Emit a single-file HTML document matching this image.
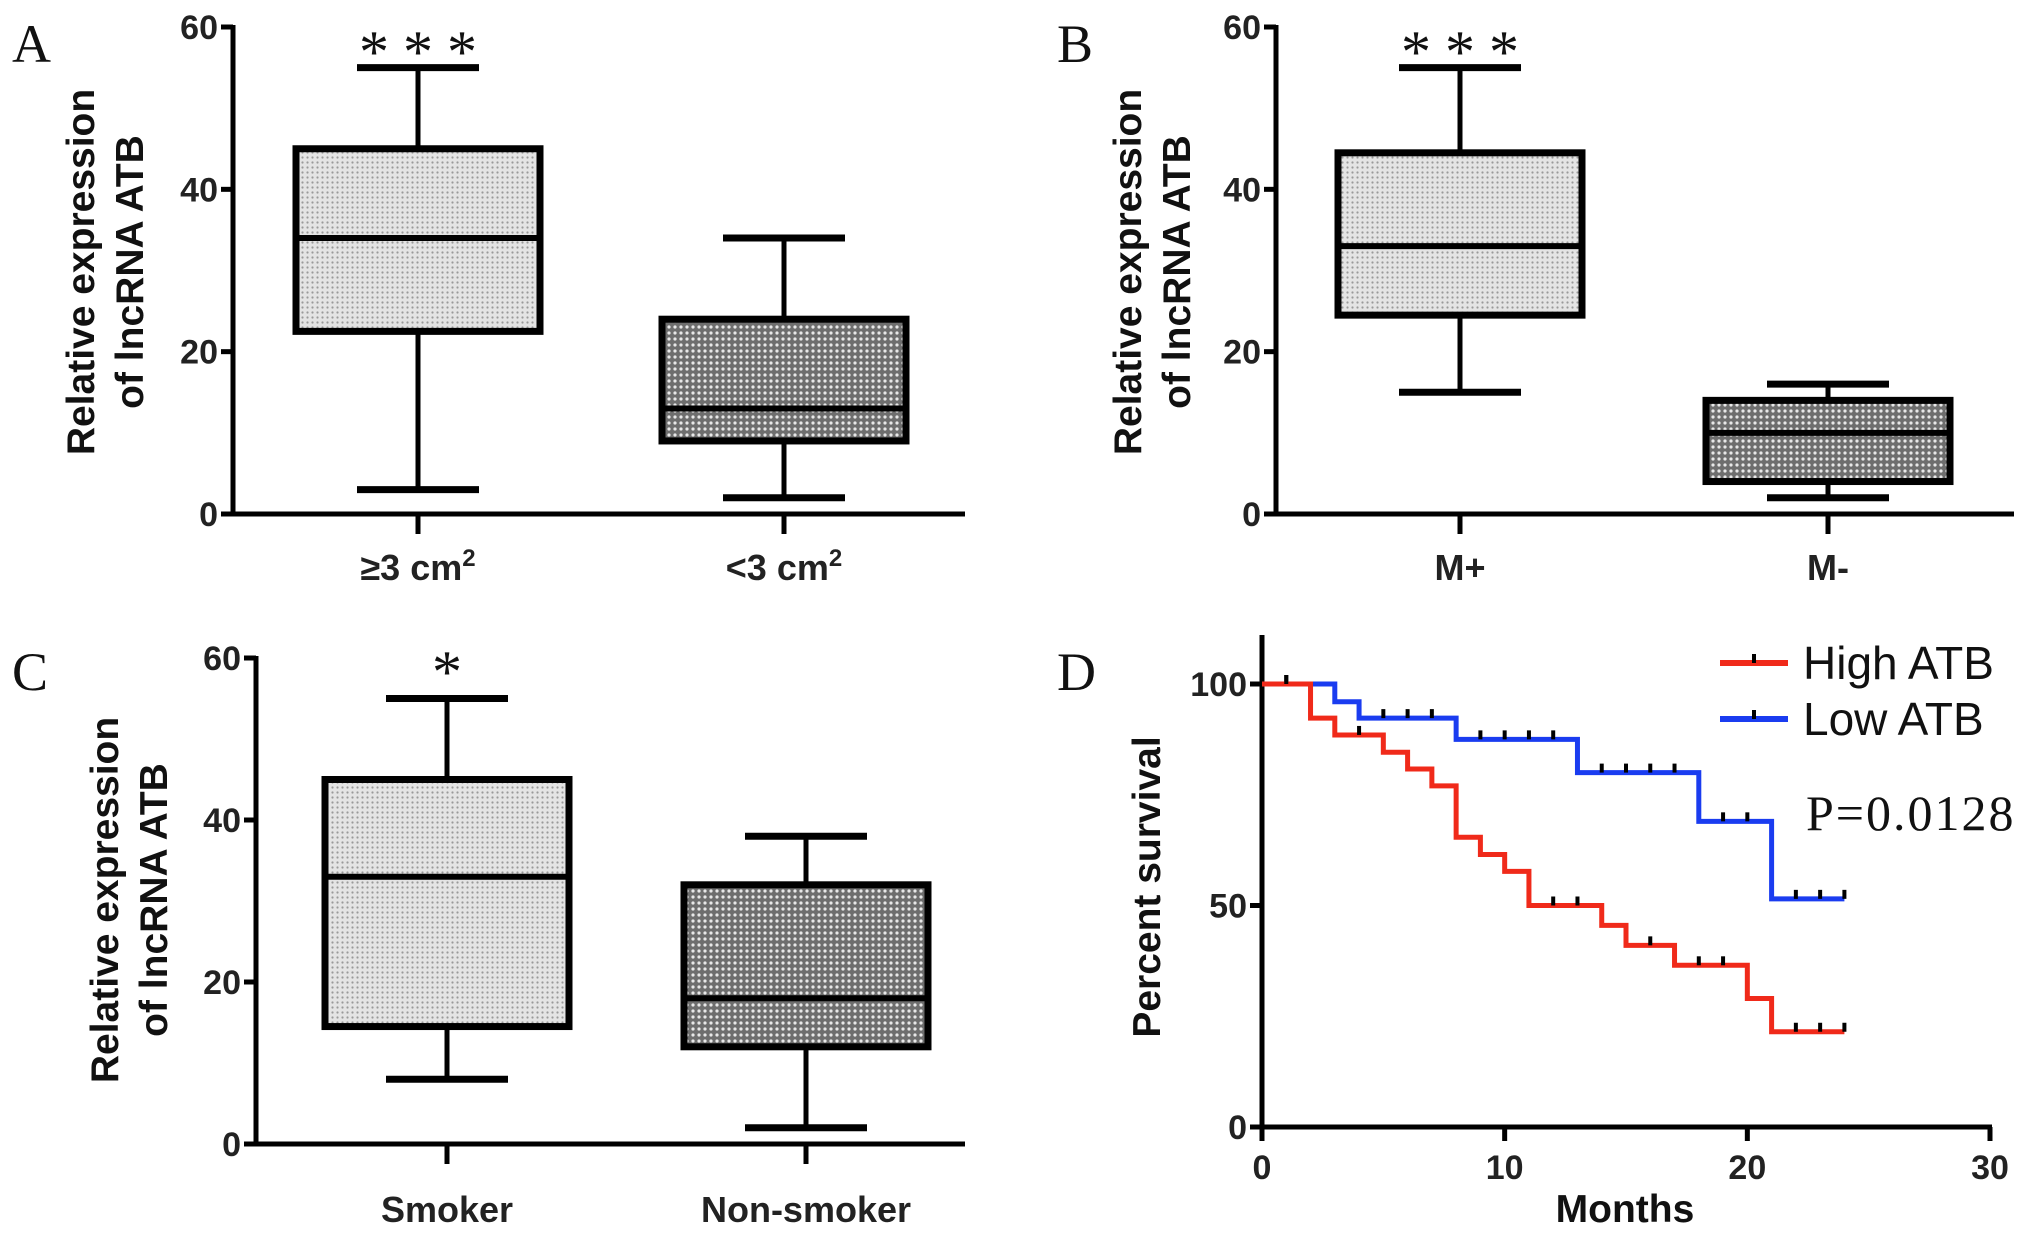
<!DOCTYPE html>
<html><head><meta charset="utf-8"><style>
html,body{margin:0;padding:0;background:#fff;}
svg{display:block;}
.tick{font-family:"Liberation Sans Narrow","Liberation Sans",sans-serif;font-size:34px;font-weight:bold;fill:#222;}
.xlab{font-family:"Liberation Sans",sans-serif;font-size:36px;font-weight:bold;fill:#222;}
.title{font-family:"Liberation Sans",sans-serif;font-size:39px;font-weight:bold;fill:#111;}
.letter{font-family:"Liberation Serif",serif;font-size:54px;fill:#111;}
.star{font-family:"Liberation Serif",serif;font-size:60px;fill:#111;}
.leg{font-family:"Liberation Sans Narrow","Liberation Sans",sans-serif;font-size:46px;fill:#111;}
</style></head><body>
<svg id="fig" width="2031" height="1234" viewBox="0 0 2031 1234" xmlns="http://www.w3.org/2000/svg">
<defs>
<pattern id="light" width="5" height="5" patternUnits="userSpaceOnUse"><rect width="5" height="5" fill="#e4e4e4"/><circle cx="2.5" cy="2.5" r="1.1" fill="#999"/></pattern>
<pattern id="dark" width="6" height="6" patternUnits="userSpaceOnUse"><rect width="6" height="6" fill="#6e6e6e"/><circle cx="3" cy="3" r="1.6" fill="#e8e8e8"/></pattern>
</defs>
<g id="root"></g>
</svg>
<script>
// Panel A data: [max, q3, median, q1, min]
const catsA = ["≥3 cm", "<3 cm"];
const boxA1 = [55, 45, 34, 22.5, 3];
const boxA2 = [34, 24, 13, 9, 2];
// Panel B
const catsB = ["M+", "M-"];
const boxB1 = [55, 44.5, 33, 24.5, 15];
const boxB2 = [16, 14, 10, 4, 2];
// Panel C
const catsC = ["Smoker", "Non-smoker"];
const boxC1 = [55, 45, 33, 14.5, 8];
const boxC2 = [38, 32, 18, 12, 2];
const yTicksBox = [0, 20, 40, 60];
// Panel D survival: times and values
const highT = [0, 2, 3, 5, 6, 7, 8, 9, 10, 11, 14, 15, 17, 20, 21, 24];
const highS = [100, 92.3, 88.5, 84.6, 80.8, 77, 65.4, 61.5, 57.7, 50, 45.5, 41, 36.5, 29, 21.5, 21.5];
const lowT = [0, 3, 4, 8, 13, 18, 21, 24];
const lowS = [100, 96, 92.3, 87.5, 80, 69, 51.5, 51.5];
const highCens = [1, 4, 12, 13, 16, 18, 19, 22, 23, 24];
const lowCens = [1, 5, 6, 7, 9, 10, 11, 12, 14, 15, 16, 17, 19, 20, 22, 23, 24];
const xTicksD = [0, 10, 20, 30];
const yTicksD = [0, 50, 100];

const NS = "http://www.w3.org/2000/svg";
const root = document.getElementById('root');
function mk(tag, attrs, parent, text) {
  const e = document.createElementNS(NS, tag);
  for (const k in attrs) e.setAttribute(k, attrs[k]);
  if (text !== undefined) e.textContent = text;
  (parent || root).appendChild(e);
  return e;
}

function boxPanel(p) {
  const g = mk('g', {});
  
  
  const y = v => p.y0 - (v / 60) * (p.y0 - p.y60);
  const ax = mk('line', {x1: p.ax, y1: p.y60 - 2, x2: p.ax, y2: p.y0 + 2, stroke: '#000', 'stroke-width': 5}, g);
  
  
  const xl = mk('line', {x1: p.ax, y1: p.y0, x2: p.xEnd, y2: p.y0, stroke: '#000', 'stroke-width': 5}, g);
  
  
  yTicksBox.forEach(v => {
    mk('line', {x1: p.ax - 12, y1: y(v), x2: p.ax, y2: y(v), stroke: '#000', 'stroke-width': 5}, g);
    const t = mk('text', {x: p.ax - 15, y: y(v) + 12, 'text-anchor': 'end', class: 'tick'}, g, v);
    
    
  });
  [p.b1, p.b2].forEach((b, i) => {
    const cx = p.cats[i];
    const bg = mk('g', {}, g);
    
    
    mk('line', {x1: cx, y1: y(b[0]), x2: cx, y2: y(b[4]), stroke: '#000', 'stroke-width': 5}, bg);
    mk('line', {x1: cx - 61, y1: y(b[0]), x2: cx + 61, y2: y(b[0]), stroke: '#000', 'stroke-width': 7}, bg);
    mk('line', {x1: cx - 61, y1: y(b[4]), x2: cx + 61, y2: y(b[4]), stroke: '#000', 'stroke-width': 7}, bg);
    mk('rect', {x: cx - 122, y: y(b[1]), width: 244, height: y(b[3]) - y(b[1]), fill: i ? 'url(#dark)' : 'url(#light)', stroke: '#000', 'stroke-width': 7}, bg);
    mk('line', {x1: cx - 122, y1: y(b[2]), x2: cx + 122, y2: y(b[2]), stroke: '#000', 'stroke-width': 6}, bg);
    mk('line', {x1: cx, y1: p.y0, x2: cx, y2: p.y0 + 20, stroke: '#000', 'stroke-width': 5}, g);
    const t = mk('text', {x: cx, y: p.labY, 'text-anchor': 'middle', class: 'xlab'}, g, p.labels[i]);
    
    
    if (p.sup && p.sup[i]) mk('tspan', {dy: -14, 'font-size': 24}, t, '2');
  });
  const st = mk('text', {x: p.cats[0] + 7, y: p.starY, 'text-anchor': 'middle', class: 'star', 'letter-spacing': 14}, g, p.star);
  
  
  const tt = mk('text', {transform: `translate(${p.tx},${p.ty}) rotate(-90)`, 'text-anchor': 'middle', class: 'title'}, g);
  
  
  mk('tspan', {x: 0, y: 0}, tt, 'Relative expression');
  mk('tspan', {x: 0, y: 49}, tt, 'of lncRNA ATB');
  const L = mk('text', {x: p.lx, y: p.ly, class: 'letter'}, g, p.letter);
  
  
}

boxPanel({name: 'panel-a', ax: 233, y0: 514, y60: 27, xEnd: 965, cats: [418, 784], b1: boxA1, b2: boxA2, labels: catsA, sup: [1, 1], labY: 580, star: '***', starY: 72, tx: 94, ty: 272, letter: 'A', lx: 12, ly: 62});
boxPanel({name: 'panel-b', ax: 1276, y0: 514, y60: 27, xEnd: 2014, cats: [1460, 1828], b1: boxB1, b2: boxB2, labels: catsB, labY: 580, star: '***', starY: 72, tx: 1141, ty: 272, letter: 'B', lx: 1057, ly: 62});
boxPanel({name: 'panel-c', ax: 256, y0: 1144, y60: 658, xEnd: 965, cats: [447, 806], b1: boxC1, b2: boxC2, labels: catsC, labY: 1222, star: '*', starY: 692, tx: 118, ty: 900, letter: 'C', lx: 12, ly: 690});

// Panel D
(function () {
  const g = mk('g', {});
  
  
  const x0 = 1262, x30 = 1990, y0 = 1127, y100 = 684;
  const X = t => x0 + (t / 30) * (x30 - x0);
  const Y = v => y0 - (v / 100) * (y0 - y100);
  const ya = mk('line', {x1: x0, y1: 635, x2: x0, y2: y0 + 2, stroke: '#000', 'stroke-width': 5}, g);
  
  
  const xa = mk('line', {x1: x0 - 12, y1: y0, x2: x30 + 2, y2: y0, stroke: '#000', 'stroke-width': 5}, g);
  
  
  yTicksD.forEach(v => {
    mk('line', {x1: x0 - 12, y1: Y(v), x2: x0, y2: Y(v), stroke: '#000', 'stroke-width': 5}, g);
    const t = mk('text', {x: x0 - 15, y: Y(v) + 12, 'text-anchor': 'end', class: 'tick'}, g, v);
    
    
  });
  xTicksD.forEach(v => {
    mk('line', {x1: X(v), y1: y0, x2: X(v), y2: y0 + 14, stroke: '#000', 'stroke-width': 5}, g);
    const t = mk('text', {x: X(v), y: y0 + 52, 'text-anchor': 'middle', class: 'tick'}, g, v);
    
    
  });
  function stepPath(T, S) {
    let d = `M${X(T[0])},${Y(S[0])}`;
    for (let i = 1; i < T.length; i++) d += ` H${X(T[i])} V${Y(S[i])}`;
    return d;
  }
  function survAt(T, S, t) { let v = S[0]; for (let i = 0; i < T.length; i++) if (T[i] <= t) v = S[i]; return v; }
  [[lowT, lowS, lowCens, '#1a3cf0', 'low-atb-curve'], [highT, highS, highCens, '#f02a1a', 'high-atb-curve']].forEach(([T, S, C, col, nm]) => {
    const p = mk('path', {d: stepPath(T, S), fill: 'none', stroke: col, 'stroke-width': 5}, g);
    
    
    C.forEach(t => {
      const yy = Y(survAt(T, S, t));
      mk('line', {x1: X(t), y1: yy - 9, x2: X(t), y2: yy, stroke: '#000', 'stroke-width': 4}, g);
    });
  });
  const t1 = mk('text', {transform: `translate(1160,887) rotate(-90)`, 'text-anchor': 'middle', class: 'title'}, g, 'Percent survival');
  
  
  const t2 = mk('text', {x: 1625, y: 1222, 'text-anchor': 'middle', class: 'title'}, g, 'Months');
  
  
  [['High ATB', '#f02a1a', 663, 'legend-entry-high'], ['Low ATB', '#1a3cf0', 719, 'legend-entry-low']].forEach(([lab, col, yy, nm]) => {
    const lg = mk('g', {}, g);
    
    
    mk('line', {x1: 1720, y1: yy, x2: 1788, y2: yy, stroke: col, 'stroke-width': 6}, lg);
    mk('line', {x1: 1754, y1: yy - 9, x2: 1754, y2: yy, stroke: '#000', 'stroke-width': 4}, lg);
    mk('text', {x: 1803, y: yy + 16, class: 'leg'}, lg, lab);
  });
  const pv = mk('text', {x: 1806, y: 830, class: 'letter', style: 'font-size:50px;letter-spacing:2px'}, g, 'P=0.0128');
  
  
  const L = mk('text', {x: 1057, y: 690, class: 'letter'}, g, 'D');
  
  
})();
</script>
</body></html>
